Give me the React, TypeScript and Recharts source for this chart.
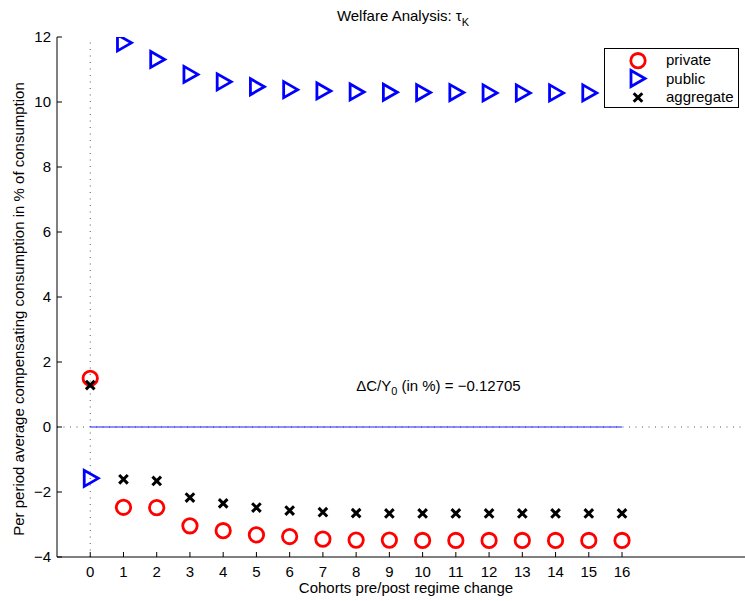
import React from 'react';
import { ComposedChart, Scatter, XAxis, YAxis, ReferenceLine, ReferenceDot } from 'recharts';

const cohorts = [0, 1, 2, 3, 4, 5, 6, 7, 8, 9, 10, 11, 12, 13, 14, 15, 16];
const privateVals = [1.5, -2.47, -2.48, -3.04, -3.19, -3.32, -3.37, -3.45, -3.48, -3.48, -3.49, -3.49, -3.49, -3.49, -3.49, -3.49, -3.49];
const publicVals = [-1.58, 11.82, 11.31, 10.85, 10.62, 10.47, 10.38, 10.34, 10.31, 10.3, 10.29, 10.29, 10.28, 10.28, 10.28, 10.28, 10.28];
const aggregateVals = [1.29, -1.61, -1.66, -2.17, -2.35, -2.48, -2.57, -2.62, -2.65, -2.66, -2.66, -2.66, -2.66, -2.66, -2.66, -2.66, -2.66];
const xTicks = [0, 1, 2, 3, 4, 5, 6, 7, 8, 9, 10, 11, 12, 13, 14, 15, 16];
const yTicks = [-4, -2, 0, 2, 4, 6, 8, 10, 12];
const xDomain = [-1, 19.7];
const yDomain = [-4, 12];
const annotation = { x: 8, y: 1.11, value: '-0.12705' };

const FONT = '"Liberation Sans", Arial, Helvetica, sans-serif';
const fmt = (v: number) => String(v).replace('-', '\u2212');

const privateData = cohorts.map((c, i) => ({ x: c, y: privateVals[i] }));
const publicData = cohorts.map((c, i) => ({ x: c, y: publicVals[i] }));
const aggregateData = cohorts.map((c, i) => ({ x: c, y: aggregateVals[i] }));

const CircleMark = ({ cx, cy }: any) => (
  <circle cx={cx} cy={cy} r={7.2} fill="none" stroke="#ff0000" strokeWidth={2.8} />
);
const TriMark = ({ cx, cy }: any) => (
  <polygon
    points={`${cx - 6},${cy - 8} ${cx - 6},${cy + 8} ${cx + 8},${cy}`}
    fill="none"
    stroke="#0000ff"
    strokeWidth={2.8}
  />
);
const CrossMark = ({ cx, cy }: any) => (
  <path
    d={`M${cx - 4.3},${cy - 4.3}L${cx + 4.3},${cy + 4.3}M${cx - 4.3},${cy + 4.3}L${cx + 4.3},${cy - 4.3}`}
    stroke="#000"
    strokeWidth={3}
    fill="none"
  />
);

const BottomTick = ({ x, y, payload }: any) => (
  <g>
    <line x1={x} x2={x} y1={y} y2={y - 5} stroke="#000" strokeWidth={1} />
    <text x={x} y={y + 20} textAnchor="middle" fontSize={15} fontFamily={FONT} fill="#000">
      {fmt(payload.value)}
    </text>
  </g>
);
const TopTick = ({ x, y }: any) => (
  <line x1={x} x2={x} y1={y} y2={y + 5} stroke="#000" strokeWidth={1} />
);
const LeftTick = ({ x, y, payload }: any) => (
  <g>
    <line x1={x} x2={x + 5} y1={y} y2={y} stroke="#000" strokeWidth={1} />
    <text x={x - 6} y={y + 5.3} textAnchor="end" fontSize={15} fontFamily={FONT} fill="#000">
      {fmt(payload.value)}
    </text>
  </g>
);

const YLabel = ({ viewBox }: any) => {
  const cx = viewBox.x + 24;
  const cy = viewBox.y + viewBox.height / 2 + 12;
  return (
    <text
      x={cx}
      y={cy}
      transform={`rotate(-90 ${cx} ${cy})`}
      textAnchor="middle"
      fontSize={15}
      fontFamily={FONT}
      fill="#000"
    >
      Per period average compensating consumption in % of consumption
    </text>
  );
};

const XLabel = ({ viewBox }: any) => (
  <text
    x={viewBox.x + viewBox.width / 2 + 5}
    y={viewBox.y + 36}
    textAnchor="middle"
    fontSize={15}
    fontFamily={FONT}
    fill="#000"
  >
    Cohorts pre/post regime change
  </text>
);

const AnnotationLabel = ({ viewBox }: any) => (
  <text x={viewBox.x + 1} y={viewBox.y + 1} fontSize={15} fontFamily={FONT} fill="#000">
    <tspan>{'\u0394C/Y'}</tspan>
    <tspan dy={4} fontSize={11}>0</tspan>
    <tspan dy={-4}>{` (in %) = ${fmt(Number(annotation.value) as any)}`}</tspan>
  </text>
);

export default function App() {
  return (
    <div style={{ position: 'absolute', left: 0, top: 0, width: 745, height: 601, background: '#fff' }}>
      <ComposedChart width={745} height={601} margin={{ top: 37, right: 0, bottom: 0, left: 0 }}>
        <XAxis
          dataKey="x"
          type="number"
          domain={xDomain}
          ticks={xTicks}
          allowDataOverflow
          height={44}
          tickSize={0}
          tickMargin={0}
          tickLine={false}
          tick={<BottomTick />}
          axisLine={{ stroke: '#000', strokeWidth: 1 }}
          interval={0}
          label={{ content: <XLabel /> }}
        />
        <XAxis
          xAxisId="top"
          orientation="top"
          dataKey="x"
          type="number"
          domain={xDomain}
          ticks={xTicks}
          allowDataOverflow
          height={0}
          tickSize={0}
          tickMargin={0}
          tickLine={false}
          tick={<TopTick />}
          axisLine={{ stroke: '#000', strokeWidth: 1 }}
          interval={0}
        />
        <YAxis
          dataKey="y"
          type="number"
          domain={yDomain}
          ticks={yTicks}
          allowDataOverflow
          width={57}
          tickSize={0}
          tickMargin={0}
          tickLine={false}
          tick={<LeftTick />}
          axisLine={{ stroke: '#000', strokeWidth: 1 }}
          interval={0}
          label={{ content: <YLabel /> }}
        />
        <ReferenceLine y={0} stroke="#555" strokeDasharray="1 5.5" strokeWidth={1} ifOverflow="hidden" />
        <ReferenceLine x={0} stroke="#555" strokeDasharray="1 5.5" strokeWidth={1} ifOverflow="hidden" />
        <ReferenceLine
          segment={[{ x: 0, y: 0 }, { x: 16, y: 0 }]}
          stroke="#2020ff"
          strokeWidth={1.2}
        />
        <ReferenceDot
          x={annotation.x}
          y={annotation.y}
          r={1}
          fill="none"
          stroke="none"
          label={{ content: <AnnotationLabel /> }}
        />
        <Scatter name="private" data={privateData} shape={<CircleMark />} isAnimationActive={false} />
        <Scatter name="public" data={publicData} shape={<TriMark />} isAnimationActive={false} />
        <Scatter name="aggregate" data={aggregateData} shape={<CrossMark />} isAnimationActive={false} />
      </ComposedChart>
      <svg
        width={745}
        height={601}
        style={{ position: 'absolute', left: 0, top: 0, pointerEvents: 'none' }}
      >
        <text x={403} y={21} textAnchor="middle" fontSize={15} fontFamily={FONT} fill="#000">
          <tspan>{'Welfare Analysis: \u03C4'}</tspan>
          <tspan dy={5} fontSize={11}>K</tspan>
        </text>
        <rect x={604.5} y={48.5} width={134} height={59} fill="#fff" stroke="#000" strokeWidth={1} />
        <CircleMark cx={638} cy={60.7} />
        <TriMark cx={637} cy={78.5} />
        <CrossMark cx={638} cy={97.5} />
        <text x={666} y={65} fontSize={15} fontFamily={FONT} fill="#000">private</text>
        <text x={666} y={83.5} fontSize={15} fontFamily={FONT} fill="#000">public</text>
        <text x={666} y={102} fontSize={15} fontFamily={FONT} fill="#000">aggregate</text>
      </svg>
    </div>
  );
}
